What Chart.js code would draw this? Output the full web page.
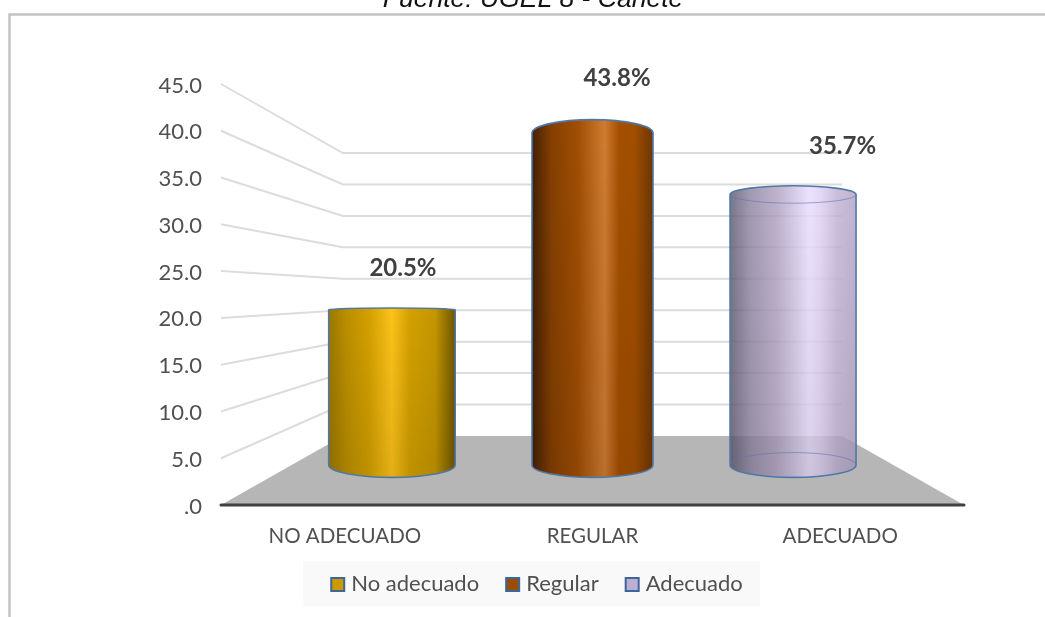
<!DOCTYPE html>
<html>
<head>
<meta charset="utf-8">
<script src="https://cdn.jsdelivr.net/npm/chart.js@4/dist/chart.umd.js"></script>
<style>
html, body { margin: 0; padding: 0; background: #fff; }
#wrap { width: 1045px; height: 617px; position: relative; overflow: hidden; }
</style>
</head>
<body>
<div id="wrap"><canvas id="chart" width="1045" height="617"></canvas></div>
<script>
// data
const titleText = 'Fuente: UGEL 8 - Cañete';
const categories = ['NO ADECUADO', 'REGULAR', 'ADECUADO'];
const legendLabels = ['No adecuado', 'Regular', 'Adecuado'];
const percentages = [20.5, 43.8, 35.7];
const yTicks = [0, 5, 10, 15, 20, 25, 30, 35, 40, 45];

// look of the 3D scene
const backScale = 0.672;   // size of back wall vs the front plane
const barDepth = 0.58;     // where the cylinders stand between front (0) and back (1)
const vanishY = 294.5;
const eyeY = 306;
const ellipseRatio = 0.078;
const cylinderWidths = [126.5, 121, 126];
const labelShift = [[11, -41], [24.5, -55], [49.5, -48]];
const legendColors = ['#cc9a00', '#9c4d04', '#bcaed4'];
const shades = [
  ['#9a7800', '#bb8e00', '#d3a000', '#fcc21a', '#d3a000', '#c49600', '#6e5500'],
  ['#432003', '#843f02', '#a04e03', '#cf7c32', '#a44f00', '#a04e00', '#6c3500'],
  ['#5c5870', '#8d84a0', '#b0a2c2', '#e8dcff', '#dccff2', '#bfb0d4', '#b0a2c4']
];
const shadeStops = [
  [0, 0.14, 0.32, 0.5, 0.64, 0.84, 1],
  [0, 0.16, 0.38, 0.6, 0.72, 0.85, 1],
  [0, 0.16, 0.38, 0.63, 0.72, 0.85, 1]
];
const edgeColor = '#4f78a8';
const canvasBottom = 617, axisBottom = 505, legendBottomGap = 12;

function project(chart, px, py, t) {
  const area = chart.chartArea;
  const cx = (area.left + area.right) / 2;
  const s = 1 - (1 - backScale) * t;
  return { x: cx + (px - cx) * s, y: vanishY + (py - vanishY) * s, s: s };
}

const scenePlugin = {
  id: 'scene',
  beforeDraw(chart) {
    const ctx = chart.ctx;
    ctx.save();
    ctx.fillStyle = '#fff';
    ctx.fillRect(0, 0, chart.width, chart.height);
    // frame, open to the right and bottom
    ctx.strokeStyle = '#c3c3c3';
    ctx.lineWidth = 2.5;
    ctx.beginPath();
    ctx.moveTo(9.5, chart.height);
    ctx.lineTo(9.5, 14.5);
    ctx.lineTo(chart.width, 14.5);
    ctx.stroke();
    // source line, cut by the top of the picture
    ctx.fillStyle = '#111';
    ctx.font = 'italic 26.5px "Liberation Sans"';
    ctx.textAlign = 'center';
    ctx.textBaseline = 'alphabetic';
    ctx.fillText(titleText, 533, 7);
    // legend backing
    ctx.fillStyle = '#f9f9f9';
    ctx.fillRect(303, 561, 457, 45);
    ctx.restore();
  },
  beforeDatasetsDraw(chart) {
    const ctx = chart.ctx, area = chart.chartArea, y = chart.scales.y;
    ctx.save();
    // floor
    const fl = project(chart, area.left, y.getPixelForValue(0), 1);
    const fr = project(chart, area.right, y.getPixelForValue(0), 1);
    ctx.fillStyle = '#b6b6b6';
    ctx.beginPath();
    ctx.moveTo(area.left, y.getPixelForValue(0));
    ctx.lineTo(fl.x, fl.y);
    ctx.lineTo(fr.x, fr.y);
    ctx.lineTo(area.right, y.getPixelForValue(0));
    ctx.closePath();
    ctx.fill();
    // side and back wall grid lines
    ctx.strokeStyle = '#dcdcdc';
    ctx.lineWidth = 2;
    yTicks.forEach(v => {
      if (v === 0) return;
      const py = y.getPixelForValue(v);
      const a = project(chart, area.left, py, 1);
      const b = project(chart, area.right, py, 1);
      ctx.beginPath();
      ctx.moveTo(area.left, py);
      ctx.lineTo(a.x, a.y);
      ctx.lineTo(b.x, b.y);
      ctx.stroke();
    });
    // axis line
    ctx.strokeStyle = '#404040';
    ctx.lineWidth = 3;
    ctx.lineCap = 'round';
    ctx.beginPath();
    ctx.moveTo(area.left, y.getPixelForValue(0));
    ctx.lineTo(area.right, y.getPixelForValue(0));
    ctx.stroke();
    ctx.restore();
  },
  afterDatasetsDraw(chart) {
    const ctx = chart.ctx, yScale = chart.scales.y;
    const bars = chart.getDatasetMeta(0).data;
    bars.forEach((bar, i) => {
      const top = project(chart, bar.x, bar.y, barDepth);
      const bot = project(chart, bar.x, yScale.getPixelForValue(0), barDepth);
      const rx = cylinderWidths[i] / 2;
      const ryTop = Math.max(1.6, Math.abs(top.y - eyeY) * ellipseRatio);
      const ryBot = Math.abs(bot.y - eyeY) * ellipseRatio;
      const left = top.x - rx, right = top.x + rx;
      const g = ctx.createLinearGradient(left, 0, right, 0);
      shadeStops[i].forEach((stop, k) => g.addColorStop(stop, shades[i][k]));
      const dim = ctx.createLinearGradient(0, top.y, 0, bot.y);
      dim.addColorStop(0, 'rgba(0,0,0,0)');
      dim.addColorStop(1, 'rgba(0,0,0,0.09)');
      const see = i === 2;
      ctx.save();
      const body = new Path2D();
      body.ellipse(top.x, top.y, rx, ryTop, 0, Math.PI, 2 * Math.PI);
      body.lineTo(right, bot.y);
      body.ellipse(bot.x, bot.y, rx, ryBot, 0, 0, Math.PI);
      body.closePath();
      ctx.globalAlpha = see ? 0.82 : 1;
      ctx.fillStyle = g;
      ctx.fill(body);
      ctx.fillStyle = dim;
      ctx.fill(body);
      ctx.globalAlpha = 1;
      ctx.strokeStyle = edgeColor;
      ctx.lineWidth = 1.6;
      ctx.stroke(body);
      if (see) {
        ctx.lineWidth = 1;
        ctx.strokeStyle = 'rgba(100,115,175,0.6)';
        ctx.beginPath();
        ctx.ellipse(top.x, top.y, rx, ryTop, 0, 0, Math.PI);
        ctx.stroke();
        ctx.beginPath();
        ctx.ellipse(bot.x, bot.y, rx, ryBot, 0, Math.PI, 2 * Math.PI);
        ctx.stroke();
      }
      // value label
      ctx.fillStyle = '#404040';
      ctx.font = 'bold 24px Lato';
      ctx.textAlign = 'center';
      ctx.textBaseline = 'middle';
      ctx.fillText(percentages[i].toFixed(1) + '%', top.x + labelShift[i][0], top.y + labelShift[i][1]);
      ctx.restore();
    });
  },
  afterDraw(chart) {
    // legend swatches sit closer to their text than the built-in box allows
    const ctx = chart.ctx;
    ctx.save();
    chart.legend.legendHitBoxes.forEach((box, i) => {
      ctx.fillStyle = legendColors[i];
      ctx.strokeStyle = '#3d6796';
      ctx.lineWidth = 2;
      const y = box.top + box.height / 2 - 6;
      ctx.fillRect(box.left + 1, y, 13, 13);
      ctx.strokeRect(box.left + 1, y, 13, 13);
    });
    ctx.restore();
  }
};

new Chart(document.getElementById('chart'), {
  type: 'bar',
  data: {
    labels: categories,
    datasets: [{
      data: percentages,
      backgroundColor: 'rgba(0,0,0,0)',
      borderWidth: 0,
      categoryPercentage: 0.63,
      barPercentage: 1
    }]
  },
  options: {
    responsive: false,
    animation: false,
    layout: { padding: { left: 109, right: 81, top: 84, bottom: legendBottomGap } },
    scales: {
      x: {
        grid: { display: false, drawTicks: false },
        border: { display: false },
        ticks: { color: '#505050', font: { family: 'Lato', size: 20.5 }, padding: 19, maxRotation: 0 },
        afterFit: s => {
          const legendHeight = s.chart.legend && s.chart.legend.height ? s.chart.legend.height : 50;
          s.height = canvasBottom - axisBottom - legendBottomGap - legendHeight;
        }
      },
      y: {
        min: 0,
        max: 45,
        grid: { display: false, drawTicks: false },
        border: { display: false },
        afterBuildTicks: s => { s.ticks = yTicks.map(v => ({ value: v })); },
        afterFit: s => { s.width = 112; },
        ticks: {
          color: '#505050',
          font: { family: 'Lato', size: 22 },
          padding: 19,
          labelOffset: 1.5,
          callback: v => v === 0 ? '.0' : v.toFixed(1)
        }
      }
    },
    plugins: {
      tooltip: { enabled: false },
      legend: {
        position: 'bottom',
        labels: {
          color: '#505050',
          font: { family: 'Lato', size: 22 },
          boxWidth: 10,
          boxHeight: 14,
          padding: 26,
          generateLabels: () => legendLabels.map((text, i) => ({
            text: text,
            fillStyle: 'rgba(0,0,0,0)',
            strokeStyle: 'rgba(0,0,0,0)',
            lineWidth: 0,
            fontColor: '#505050',
            datasetIndex: 0,
            index: i
          }))
        }
      }
    }
  },
  plugins: [scenePlugin]
});
</script>
</body>
</html>
